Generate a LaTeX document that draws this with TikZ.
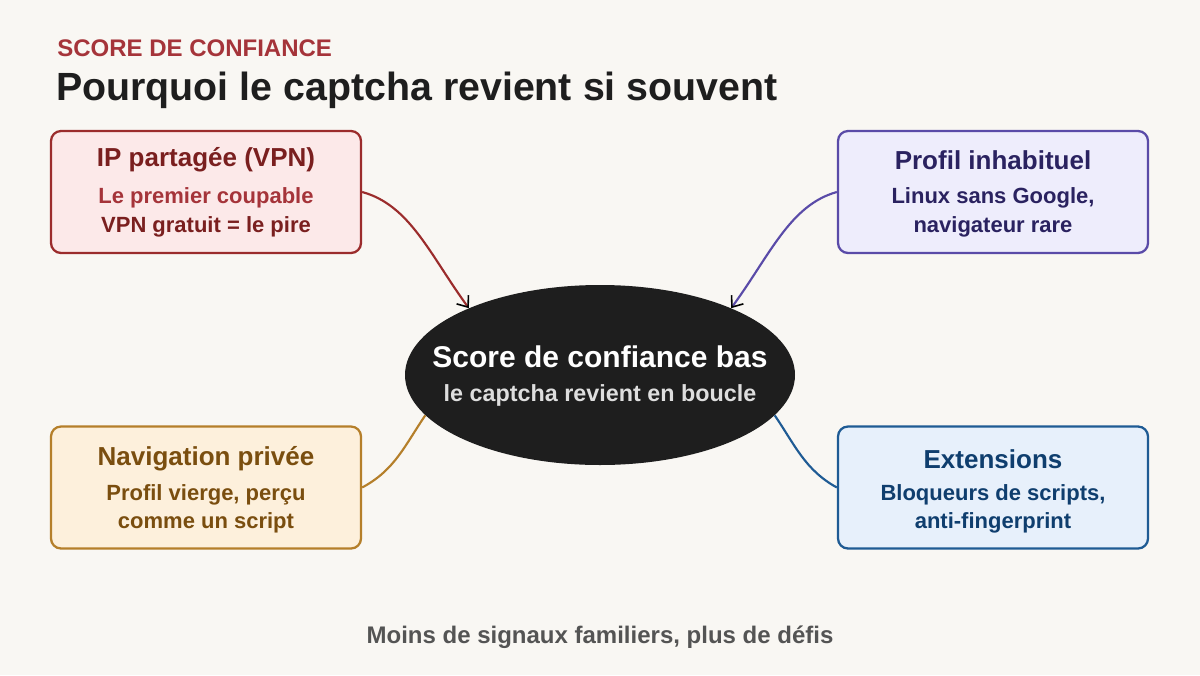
\documentclass[tikz,border=0pt]{standalone}
\usepackage{fontspec}
\setmainfont{Liberation Sans}
\usetikzlibrary{shapes.geometric,arrows.meta}
\definecolor{bg}{HTML}{F9F7F3}
\definecolor{ipS}{HTML}{9B2C2C}\definecolor{ipF}{HTML}{FCE9E9}\definecolor{ipT}{HTML}{7A1F1F}\definecolor{ipL}{HTML}{A5343A}
\definecolor{prS}{HTML}{5A4BA8}\definecolor{prF}{HTML}{EEEDFC}\definecolor{prT}{HTML}{2A2260}
\definecolor{nvS}{HTML}{B57F2A}\definecolor{nvF}{HTML}{FDF0DC}\definecolor{nvT}{HTML}{7A4E0F}
\definecolor{exS}{HTML}{1F5B94}\definecolor{exF}{HTML}{E7F0FB}\definecolor{exT}{HTML}{0F3E6E}
\definecolor{core}{HTML}{1E1E1E}
\begin{document}
\begin{tikzpicture}[x=0.75pt,y=-0.75pt,
  card/.style={draw, line width=1.7pt, rounded corners=7.5pt, minimum width=232.5pt, minimum height=91.5pt, inner sep=0pt, align=center},
  ttl/.style={font=\fontsize{19.5}{23}\selectfont\bfseries},
  sub/.style={font=\fontsize{16.5}{19}\selectfont\bfseries},
  link/.style={line width=1.6pt},
  tip/.style={-{Straight Barb[black,length=7pt,width=11pt,line width=1.2pt]}}]
\fill[bg] (0,0) rectangle (1200,675);
\useasboundingbox (0,0) rectangle (1200,675);
% header
\node[anchor=base west, inner sep=0pt, text=ipL, font=\fontsize{18}{21}\selectfont\bfseries] (kicker) at (57,56) {SCORE DE CONFIANCE};
\node[anchor=base west, inner sep=0pt, text=core, font=\fontsize{29.5}{34}\selectfont\bfseries] (title) at (56,100) {Pourquoi le captcha revient si souvent};
% cards
\node[card, draw=ipS, fill=ipF] (ip) at (206,192) {};
\node[ttl, text=ipT] (ipa) at (206,160) {IP partagée (VPN)};
\node[sub, text=ipL] (ipb) at (206,198) {Le premier coupable};
\node[sub, text=ipT] (ipc) at (206,227) {VPN gratuit = le pire};

\node[card, draw=prS, fill=prF] (pr) at (993,192) {};
\node[ttl, text=prT] (pra) at (993,160) {Profil inhabituel};
\node[sub, text=prT] (prb) at (993,198) {Linux sans Google,};
\node[sub, text=prT] (prc) at (993,227) {navigateur rare};

\node[card, draw=nvS, fill=nvF] (nv) at (206,487.5) {};
\node[ttl, text=nvT] (nva) at (206,459) {Navigation privée};
\node[sub, text=nvT] (nvb) at (206,495) {Profil vierge, perçu};
\node[sub, text=nvT] (nvc) at (206,523) {comme un script};

\node[card, draw=exS, fill=exF] (ex) at (993,487.5) {};
\node[ttl, text=exT] (exa) at (993,459) {Extensions};
\node[sub, text=exT] (exb) at (993,495) {Bloqueurs de scripts,};
\node[sub, text=exT] (exc) at (993,523) {anti-fingerprint};
% core (placed first for anchors, drawn after links)
\node[ellipse, minimum width=292.5pt, minimum height=135pt, inner sep=0pt] (c) at (600,375) {};
\draw[link, draw=nvS] (nv.east) .. controls (395,470) and (405,445) .. (c.193);
\draw[link, draw=exS] (ex.west) .. controls (805,470) and (795,445) .. (c.347);
\node[ellipse, fill=core, minimum width=292.5pt, minimum height=135pt, inner sep=0pt] (c2) at (600,375) {};
\draw[link, draw=ipS, tip] (ip.east) .. controls (410,205) and (430,255) .. (c.153);
\draw[link, draw=prS, tip] (pr.west) .. controls (790,205) and (770,255) .. (c.27);
\node[text=white, font=\fontsize{22.5}{26}\selectfont\bfseries] (ca) at (600,357) {Score de confiance bas};
\node[text=black!13, font=\fontsize{17.5}{20}\selectfont\bfseries] (cb) at (600,395) {le captcha revient en boucle};
% footer
\node[text=black!67, font=\fontsize{18}{21}\selectfont\bfseries] (foot) at (600,637) {Moins de signaux familiers, plus de défis};
\end{tikzpicture}
\end{document}
